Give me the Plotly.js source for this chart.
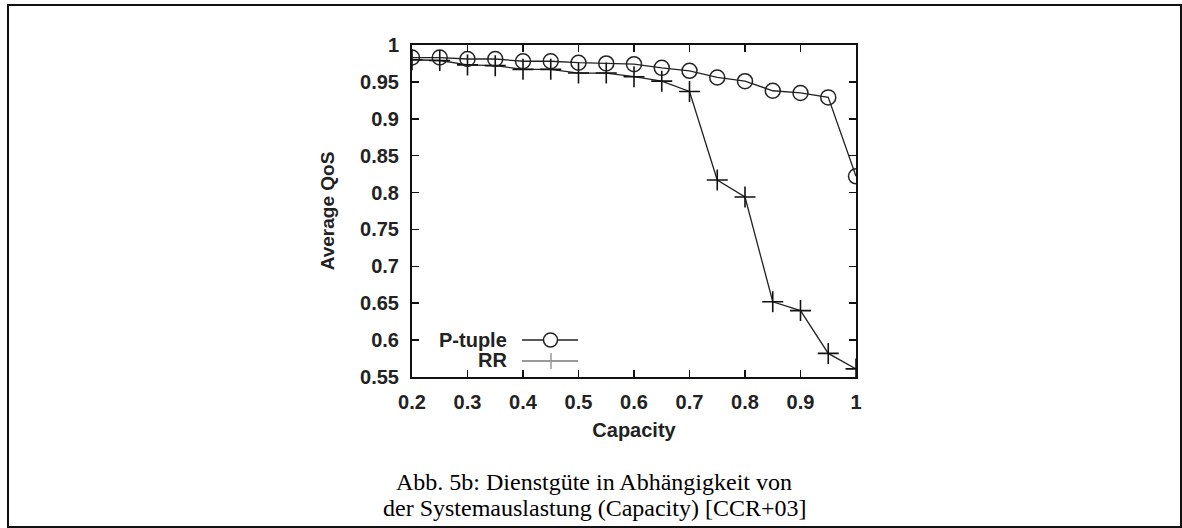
<!DOCTYPE html>
<html>
<head>
<meta charset="utf-8">
<script src="https://cdn.plot.ly/plotly-3.0.1.min.js"></script>
<style>
html,body{margin:0;padding:0;background:#fff;overflow:hidden;}
#wrap{position:relative;width:1182px;height:528px;overflow:hidden;}
#chart{position:absolute;left:0;top:0;width:1182px;height:528px;}
#frame{position:absolute;left:7px;top:4px;width:1171px;height:520px;border:2px solid #111;pointer-events:none;z-index:10;}
</style>
</head>
<body>
<div id="wrap"><div id="chart"></div><div id="frame"></div></div>
<script>
const capacity = [0.2,0.25,0.3,0.35,0.4,0.45,0.5,0.55,0.6,0.65,0.7,0.75,0.8,0.85,0.9,0.95,1.0];
const ptuple = [0.983,0.983,0.981,0.981,0.978,0.978,0.976,0.975,0.974,0.969,0.965,0.956,0.951,0.938,0.935,0.929,0.822];
const rr = [0.980,0.979,0.973,0.972,0.967,0.967,0.962,0.962,0.957,0.951,0.937,0.817,0.794,0.652,0.640,0.582,0.561];
const xTicks = [0.2,0.3,0.4,0.5,0.6,0.7,0.8,0.9,1];
const xTickText = ['0.2','0.3','0.4','0.5','0.6','0.7','0.8','0.9','1'];
const yTicks = [0.55,0.6,0.65,0.7,0.75,0.8,0.85,0.9,0.95,1];
const yTickText = ['0.55','0.6','0.65','0.7','0.75','0.8','0.85','0.9','0.95','1'];
const seriesNames = ['P-tuple','RR'];
const captionLines = ['Abb. 5b: Dienstgüte in Abhängigkeit von','der Systemauslastung (Capacity) [CCR+03]'];

const L=412, R=856, T=45, B=377;
function px(x){return (x-L)/(R-L);}
function py(y){return (B-y)/(B-T);}
const sans = 'Liberation Sans, Arial, sans-serif';
const serif = 'Liberation Serif, Times New Roman, serif';

const traces = [
  {x:capacity, y:rr, type:'scatter', mode:'lines+markers', name:seriesNames[1], showlegend:false,
   line:{color:'#222', width:1.3},
   marker:{symbol:'cross-thin-open', size:15, line:{color:'#111', width:1.6}, color:'#111'}},
  {x:capacity, y:ptuple, type:'scatter', mode:'lines+markers', name:seriesNames[0], showlegend:false,
   line:{color:'#222', width:1.3},
   marker:{symbol:'circle-open', size:15, line:{color:'#222', width:1.5}, color:'#222'}}
];

const tickFont = {family:sans, size:20, color:'#222', weight:'bold'};
const annotations = [
  {xref:'paper', yref:'paper', x:px(509), y:py(340), xanchor:'right', yanchor:'middle', showarrow:false,
   text:'<b>'+seriesNames[0]+'</b>', font:{family:sans, size:20, color:'#222'}},
  {xref:'paper', yref:'paper', x:px(509), y:py(360), xanchor:'right', yanchor:'middle', showarrow:false,
   text:'<b>'+seriesNames[1]+'</b>', font:{family:sans, size:20, color:'#222'}},
  {xref:'paper', yref:'paper', x:px(594), y:py(482), xanchor:'center', yanchor:'middle', showarrow:false,
   text:captionLines[0], font:{family:serif, size:24, color:'#000'}},
  {xref:'paper', yref:'paper', x:px(594), y:py(508), xanchor:'center', yanchor:'middle', showarrow:false,
   text:captionLines[1], font:{family:serif, size:24, color:'#000'}}
];
const shapes = [
  {type:'line', xref:'paper', yref:'paper', x0:px(522), x1:px(578), y0:py(340), y1:py(340), line:{color:'#222', width:1.3}},
  {type:'circle', xref:'paper', yref:'paper', x0:px(543.5), x1:px(557.5), y0:py(333), y1:py(347), fillcolor:'#fff', line:{color:'#222', width:1.5}},
  {type:'line', xref:'paper', yref:'paper', x0:px(522), x1:px(578), y0:py(361), y1:py(361), line:{color:'#999', width:2}},
  {type:'line', xref:'paper', yref:'paper', x0:px(551), x1:px(551), y0:py(353), y1:py(369), line:{color:'#999', width:1.5}}
];

const layout = {
  width:1182, height:528,
  margin:{l:L, r:1182-R, t:T, b:528-B, pad:0},
  paper_bgcolor:'rgba(0,0,0,0)', plot_bgcolor:'#fff',
  showlegend:false,
  xaxis:{range:[0.2,1], tickvals:xTicks, ticktext:xTickText, ticks:'inside', ticklen:7, tickwidth:1.5, tickcolor:'#111',
    ticklabelstandoff:6,
    showline:true, linecolor:'#111', linewidth:2, mirror:'ticks', showgrid:false, zeroline:false,
    tickfont:tickFont, title:{text:'<b>Capacity</b>', font:{family:sans, size:20, color:'#222'}, standoff:11}},
  yaxis:{range:[0.55,1], tickvals:yTicks, ticktext:yTickText, ticks:'inside', ticklen:7, tickwidth:1.5, tickcolor:'#111',
    ticklabelstandoff:7,
    showline:true, linecolor:'#111', linewidth:2, mirror:'ticks', showgrid:false, zeroline:false,
    tickfont:tickFont, title:{text:'<b>Average QoS</b>', font:{family:sans, size:19, color:'#222'}, standoff:20}},
  annotations:annotations,
  shapes:shapes
};
Plotly.newPlot('chart', traces, layout, {displayModeBar:false, staticPlot:true});
</script>
</body>
</html>
